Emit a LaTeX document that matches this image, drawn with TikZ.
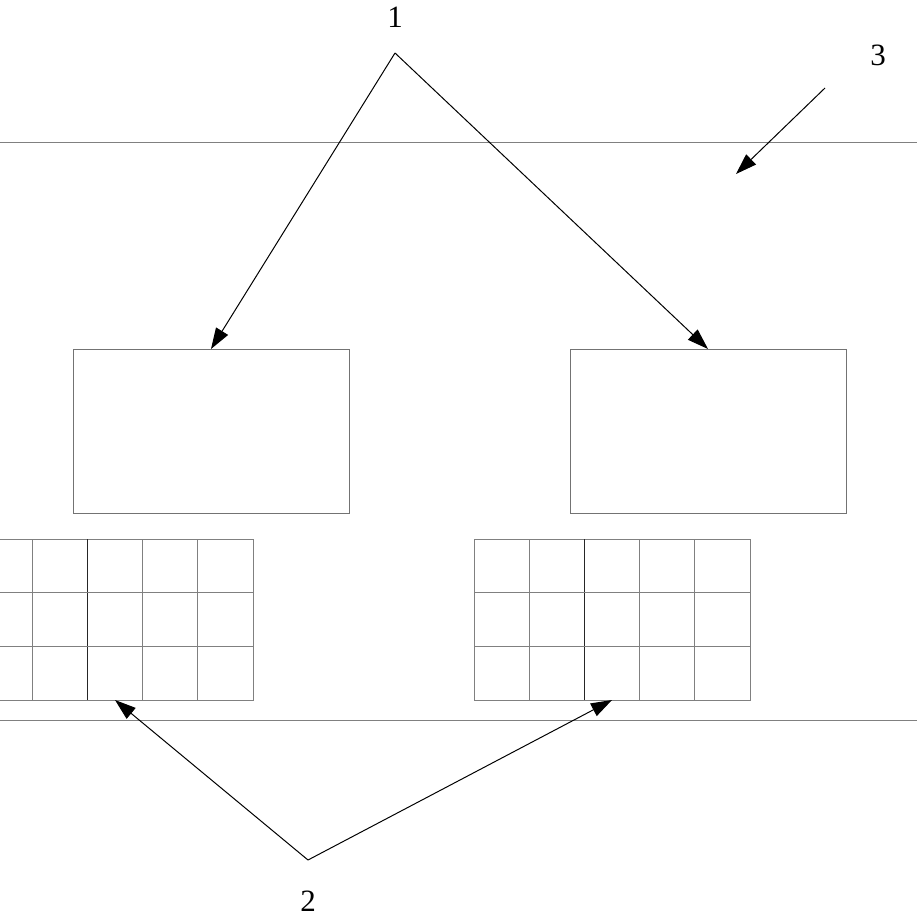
\documentclass[tikz,border=0pt]{standalone}
\usepackage{fontspec}
\setmainfont{Liberation Serif}
\usetikzlibrary{arrows.meta}
\begin{document}
\begin{tikzpicture}[x=1pt,y=-1pt,inner sep=0pt,outer sep=0pt,line width=0.8pt,
partbox/.style={draw=black!55,rectangle,minimum width=276pt,minimum height=164pt},
cellgrid/.style={draw=black!50,rectangle,minimum width=276pt,minimum height=161pt},
callout/.style={-{Triangle[length=21pt,width=14pt]},black,line width=1pt},
numlabel/.style={font=\fontsize{31}{34}\selectfont}]
\useasboundingbox (0,0) rectangle (917,917);
% band edges
\draw[black!50] (0,142) -- (917,142);
\draw[black!50] (0,720) -- (917,720);
% boxes and grids
\draw (211,431) node[partbox] (boxL) {};
\draw (708,431) node[partbox] (boxR) {};
\draw (115,619.5) node[cellgrid] (gridL) {};
\draw (612,619.5) node[cellgrid] (gridR) {};
\foreach \g in {gridL,gridR} {
  \foreach \i/\c in {1/50,2/85,3/50,4/50}
    \draw[black!\c] (\g.north west) ++(\i*55.2,0) -- ++(0,161);
  \foreach \j in {1,2}
    \draw[black!50] (\g.north west) ++(0,\j*53.7) -- ++(276,0);
}
% labels
\draw (395,17) node[numlabel] (n1) {1};
\draw (308,901) node[numlabel] (n2) {2};
\draw (878,55) node[numlabel] (n3) {3};
\coordinate (top1) at (395,53);
\coordinate (bot2) at (308,860);
\coordinate (tail3) at (825,88);
\coordinate (tip3) at (736,174);
\draw[callout] (top1) -- (boxL.north);
\draw[callout] (top1) -- (boxR.north);
\draw[callout] (bot2) -- (gridL.south);
\draw[callout] (bot2) -- (gridR.south);
\draw[callout] (tail3) -- (tip3);
\end{tikzpicture}
\end{document}
